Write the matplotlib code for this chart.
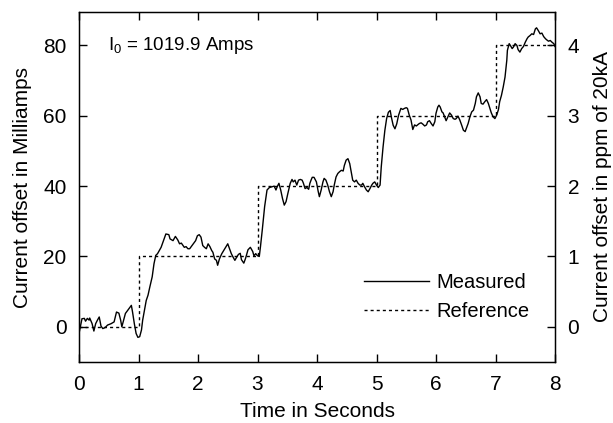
import matplotlib
matplotlib.use('Agg')
import matplotlib.pyplot as plt
from matplotlib.lines import Line2D

plt.rcParams['font.family'] = ['Liberation Sans', 'DejaVu Sans']
plt.rcParams['mathtext.fontset'] = 'custom'
plt.rcParams['mathtext.rm'] = 'Liberation Sans'
plt.rcParams['mathtext.it'] = 'Liberation Sans'

# Measured current offset (mA) vs time (s)
time_s = [0.00, 0.05, 0.09, 0.11, 0.14, 0.17, 0.18, 0.22, 0.25, 0.28, 0.31, 0.34, 0.37, 0.40,
          0.44, 0.48, 0.54, 0.59, 0.63, 0.67, 0.70, 0.72, 0.75, 0.78, 0.82, 0.88, 0.90, 0.93,
          0.96, 0.99, 1.02, 1.05, 1.07, 1.13, 1.16, 1.19, 1.23, 1.26, 1.29, 1.32, 1.38, 1.42,
          1.46, 1.51, 1.53, 1.58, 1.62, 1.66, 1.69, 1.72, 1.75, 1.77, 1.80, 1.83, 1.86, 1.90,
          1.96, 1.99, 2.02, 2.05, 2.08, 2.11, 2.14, 2.17, 2.20, 2.23, 2.25, 2.28, 2.31, 2.33,
          2.36, 2.40, 2.45, 2.50, 2.53, 2.56, 2.59, 2.62, 2.65, 2.68, 2.71, 2.73, 2.77, 2.80,
          2.84, 2.88, 2.92, 2.94, 2.97, 3.00, 3.03, 3.05, 3.08, 3.12, 3.16, 3.20, 3.24, 3.28,
          3.31, 3.33, 3.36, 3.39, 3.42, 3.45, 3.48, 3.51, 3.55, 3.58, 3.60, 3.63, 3.66, 3.69,
          3.72, 3.75, 3.77, 3.80, 3.83, 3.86, 3.88, 3.90, 3.92, 3.95, 3.99, 4.02, 4.04, 4.07,
          4.10, 4.12, 4.15, 4.18, 4.21, 4.24, 4.27, 4.29, 4.32, 4.35, 4.38, 4.41, 4.44, 4.46,
          4.49, 4.52, 4.55, 4.58, 4.60, 4.63, 4.66, 4.69, 4.72, 4.75, 4.77, 4.80, 4.83, 4.86,
          4.89, 4.92, 4.94, 4.97, 5.00, 5.03, 5.06, 5.08, 5.11, 5.14, 5.17, 5.20, 5.23, 5.25,
          5.28, 5.31, 5.34, 5.37, 5.41, 5.44, 5.47, 5.50, 5.52, 5.55, 5.58, 5.61, 5.64, 5.67,
          5.69, 5.72, 5.75, 5.78, 5.81, 5.84, 5.86, 5.89, 5.92, 5.95, 5.98, 6.00, 6.03, 6.05,
          6.07, 6.10, 6.12, 6.15, 6.17, 6.20, 6.23, 6.26, 6.29, 6.32, 6.34, 6.37, 6.40, 6.43,
          6.46, 6.49, 6.51, 6.54, 6.57, 6.60, 6.63, 6.66, 6.68, 6.71, 6.74, 6.76, 6.79, 6.82,
          6.85, 6.88, 6.90, 6.93, 6.96, 6.99, 7.02, 7.05, 7.07, 7.10, 7.13, 7.16, 7.19, 7.20,
          7.23, 7.25, 7.28, 7.30, 7.33, 7.36, 7.38, 7.41, 7.44, 7.47, 7.50, 7.53, 7.55, 7.58,
          7.61, 7.64, 7.67, 7.69, 7.72, 7.75, 7.78, 7.81, 7.84, 7.86, 7.89, 7.92, 7.95, 7.98,
          8.00]
measured_ma = [-1.9, 2.3, 2.4, 1.6, 2.4, 1.9, 2.5, 0.9, -1.2, 0.9, 1.9, 2.8, 0.2, -0.5,
               -0.2, 0.5, 0.9, 1.4, 4.2, 3.9, 1.9, 0.0, 1.9, 3.8, 4.7, 6.1, 4.2, 0.9,
               -1.9, -3.0, -2.8, -0.9, 1.9, 7.5, 9.0, 11.3, 14.2, 17.9, 20.3, 20.8, 22.6, 24.5,
               26.4, 26.2, 25.0, 24.5, 25.7, 24.7, 23.6, 23.8, 23.1, 22.6, 22.8, 22.2, 22.2, 23.1,
               24.5, 25.9, 26.2, 25.5, 23.1, 22.6, 22.2, 23.6, 22.8, 21.7, 21.2, 19.3, 18.9, 17.5,
               19.3, 20.8, 22.2, 23.6, 22.2, 20.8, 19.8, 18.9, 19.8, 20.6, 20.9, 19.1, 18.1, 19.5,
               21.9, 22.6, 21.4, 20.2, 20.8, 20.2, 20.0, 22.8, 27.5, 34.2, 38.9, 39.6, 39.8, 40.0,
               38.9, 39.8, 40.8, 38.9, 36.5, 34.6, 35.6, 37.9, 40.8, 41.9, 41.2, 41.7, 40.3, 41.7,
               41.9, 41.7, 40.9, 39.3, 39.6, 39.1, 40.8, 41.7, 42.5, 42.5, 41.2, 38.5, 37.0, 38.9,
               41.2, 42.2, 41.7, 40.3, 38.4, 37.0, 38.4, 40.3, 42.6, 43.6, 44.1, 44.5, 44.3, 45.9,
               47.4, 47.8, 46.4, 43.6, 41.7, 41.2, 41.7, 40.8, 40.3, 40.3, 40.8, 39.8, 38.9, 38.4,
               39.3, 40.3, 40.8, 41.2, 40.3, 39.6, 40.3, 45.5, 51.1, 55.8, 59.2, 61.0, 61.5, 59.6,
               57.3, 56.3, 57.7, 60.1, 62.1, 61.8, 62.1, 62.3, 62.1, 60.2, 58.8, 56.1, 57.4, 57.1,
               57.4, 57.8, 58.0, 57.6, 57.1, 57.4, 58.3, 58.6, 57.8, 57.1, 58.3, 60.7, 62.5, 63.0,
               62.5, 61.1, 60.8, 59.5, 58.6, 59.7, 60.8, 60.2, 59.2, 59.0, 59.2, 59.9, 58.8, 57.4,
               55.9, 55.5, 56.4, 57.8, 59.7, 61.1, 61.6, 63.5, 65.4, 66.5, 65.4, 63.5, 63.3, 64.0,
               64.6, 63.5, 62.4, 60.8, 59.7, 59.2, 60.2, 61.8, 64.0, 65.8, 68.2, 71.0, 75.8, 78.6,
               80.5, 80.0, 79.1, 79.5, 80.5, 80.0, 78.8, 78.1, 79.1, 79.7, 80.9, 81.9, 82.4, 82.8,
               83.3, 83.1, 84.7, 85.0, 84.2, 83.3, 83.5, 82.5, 81.9, 81.6, 81.2, 81.4, 80.9, 80.5,
               79.7]

# Reference staircase
ref_edges = [0, 1, 3, 5, 7, 8]
ref_levels = [0, 20, 40, 60, 80]

x_ticks = [0, 1, 2, 3, 4, 5, 6, 7, 8]
y_ticks = [0, 20, 40, 60, 80]
y2_ticks = [0, 1, 2, 3, 4]
ylim = (-10, 89.5)

FS = 15

fig = plt.figure(figsize=(6.13, 4.23), dpi=100)
ax = fig.add_axes([79 / 613, 61 / 423, 476 / 613, 350 / 423])

ref_x = ref_edges
ref_y = ref_levels + [ref_levels[-1]]
ax.plot(ref_x, ref_y, drawstyle='steps-post', color='black', lw=1.0,
        linestyle=(0, (2.2, 2.2)))
ax.plot(time_s, measured_ma, color='black', lw=1.0)

ax.set_xlim(0, 8)
ax.set_ylim(*ylim)
ax.set_xticks(x_ticks)
ax.set_yticks(y_ticks)
ax.tick_params(direction='in', length=6, width=1, top=True, right=False,
               labelsize=FS, pad=9)
ax.set_xlabel('Time in Seconds', fontsize=FS, labelpad=6)
ax.set_ylabel('Current offset in Milliamps', fontsize=FS, labelpad=8)
for s in ax.spines.values():
    s.set_linewidth(1.0)

ax2 = ax.twinx()
ax2.set_ylim(ylim[0] / 20, ylim[1] / 20)
ax2.set_yticks(y2_ticks)
ax2.tick_params(direction='in', length=6, width=1, labelsize=FS, pad=9)
ax2.set_ylabel('Current offset in ppm of 20kA', fontsize=FS, labelpad=10)

ax.text(0.49, 80, r'I$_0$ = 1019.9 Amps', fontsize=13.5, va='center', ha='left')

handles = [Line2D([], [], color='black', lw=1.0),
           Line2D([], [], color='black', lw=1.0, linestyle=(0, (2.2, 2.2)))]
ax.legend(handles, ['Measured', 'Reference'], loc='lower right',
          bbox_to_anchor=(0.985, 0.065), frameon=False, fontsize=14.5,
          handlelength=3.2, handletextpad=0.4, labelspacing=0.5)

fig.savefig('out.png', dpi=100)
